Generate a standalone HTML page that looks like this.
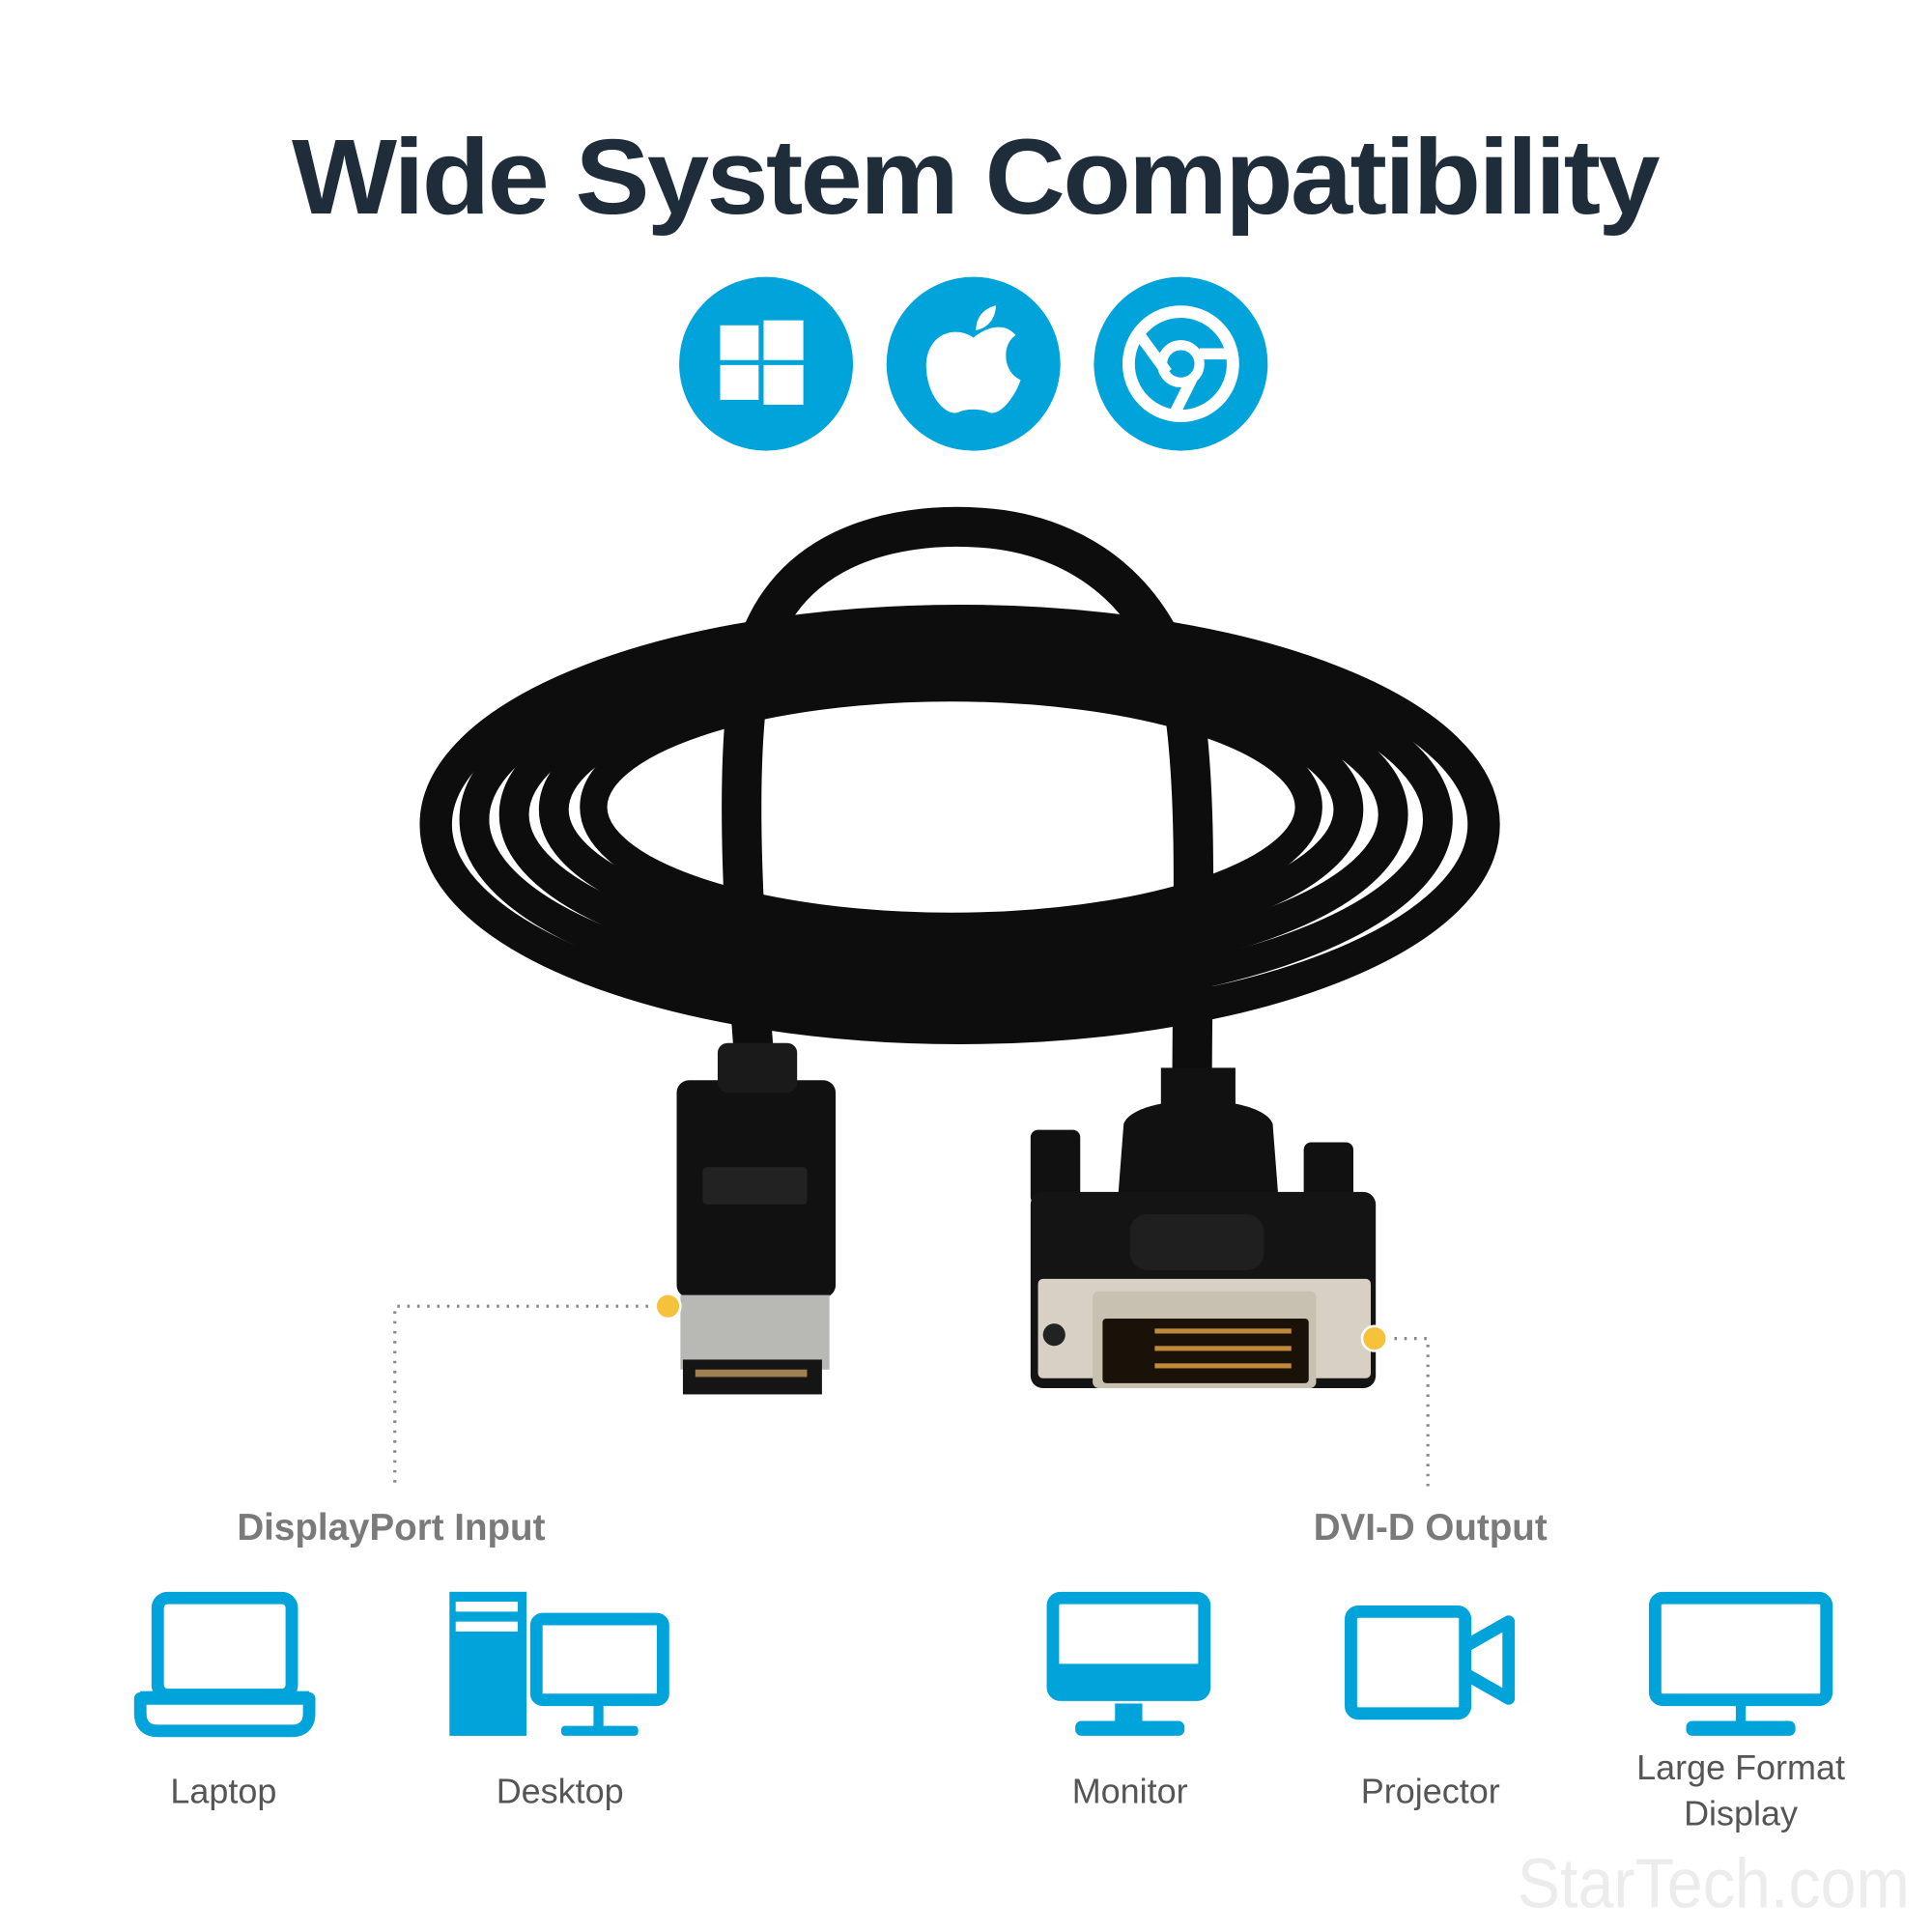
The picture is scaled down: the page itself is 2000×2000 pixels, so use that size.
<!DOCTYPE html>
<html><head><meta charset="utf-8"><style>
html,body{margin:0;padding:0;background:#fff;}
svg{display:block;}
</style></head><body>
<svg width="2000" height="2000" viewBox="0 0 1556 1556" xmlns="http://www.w3.org/2000/svg">
<rect width="1556" height="1556" fill="#fff"/>
<text x="785" y="172" text-anchor="middle" font-family="Liberation Sans, sans-serif" font-weight="bold" font-size="86" fill="#1f2d3b" letter-spacing="-2" textLength="1100" lengthAdjust="spacingAndGlyphs">Wide System Compatibility</text>
<!-- OS circles -->
<circle cx="617" cy="293" r="70" fill="#00a3da"/>
<g fill="#fff"><rect x="580" y="262" width="31" height="28"/><rect x="615" y="258" width="32" height="32"/><rect x="580" y="294" width="31" height="28"/><rect x="615" y="294" width="32" height="32"/></g>
<circle cx="784" cy="293" r="70" fill="#00a3da"/>
<path d="M784 272 C770 262 748 268 746 292 C745 318 762 336 772 332 C778 329 790 329 796 332 C806 336 818 318 822 306 C808 300 806 278 818 270 C810 260 796 262 784 272Z" fill="#fff"/>
<path d="M786 266 C786 254 794 248 802 246 C802 256 796 264 786 266Z" fill="#fff"/>
<circle cx="951" cy="293" r="70" fill="#00a3da"/>
<circle cx="951" cy="293" r="42" fill="none" stroke="#fff" stroke-width="10"/>
<circle cx="951" cy="293" r="15" fill="none" stroke="#fff" stroke-width="8"/>
<path d="M918 270 L940 300 M966 285 L992 285 M960 305 L946 333" stroke="#fff" stroke-width="9"/>
<!-- cable coils -->
<g fill="none" stroke="#0d0d0d">
<ellipse cx="773" cy="664" rx="422" ry="164" stroke-width="26"/>
<ellipse cx="770" cy="660" rx="388" ry="144" stroke-width="24"/>
<ellipse cx="768" cy="656" rx="354" ry="126" stroke-width="24"/>
<ellipse cx="766" cy="652" rx="320" ry="110" stroke-width="24"/>
<ellipse cx="766" cy="650" rx="288" ry="96" stroke-width="22"/>
<path d="M608 860 C600 760 590 620 605 540 C625 440 720 420 790 425 C870 430 940 480 955 580 C965 660 960 760 960 900" stroke-width="32"/>
</g>
<!-- DP connector -->
<rect x="545" y="870" width="128" height="175" rx="10" fill="#111"/>
<rect x="578" y="840" width="64" height="40" rx="8" fill="#1a1a1a"/>
<rect x="566" y="940" width="84" height="30" rx="3" fill="#222"/>
<rect x="548" y="1043" width="120" height="60" fill="#b8b8b4"/>
<rect x="550" y="1095" width="112" height="28" fill="#151515"/>
<rect x="560" y="1103" width="90" height="6" fill="#a08050"/>
<!-- DVI connector -->
<rect x="830" y="910" width="40" height="60" rx="6" fill="#111"/>
<rect x="1050" y="920" width="40" height="60" rx="6" fill="#111"/>
<path d="M900 970 L905 905 C915 880 1015 880 1025 905 L1030 970Z" fill="#111"/>
<rect x="935" y="860" width="60" height="40" fill="#111"/>
<rect x="830" y="960" width="278" height="158" rx="10" fill="#141414"/>
<rect x="910" y="978" width="108" height="45" rx="14" fill="#1f1f1f"/>
<rect x="836" y="1030" width="268" height="80" rx="4" fill="#d8d0c4"/>
<rect x="880" y="1040" width="180" height="78" rx="5" fill="#c8c0b0"/>
<rect x="888" y="1062" width="166" height="52" rx="3" fill="#1a1208"/>
<g fill="#c08a3a">
<rect x="930" y="1070" width="110" height="4"/><rect x="930" y="1084" width="110" height="4"/><rect x="930" y="1098" width="110" height="4"/>
</g>
<circle cx="849" cy="1075" r="9" fill="#222"/>
<!-- dotted connectors -->
<g stroke="#888" stroke-width="2.5" stroke-dasharray="2 6" fill="none">
<path d="M530 1052 L318 1052 L318 1198"/>
<path d="M1115 1078 L1150 1078 L1150 1198"/>
</g>
<circle cx="538" cy="1052" r="10" fill="#f6c23c" stroke="#fff" stroke-width="2"/>
<circle cx="1107" cy="1078" r="10" fill="#f6c23c" stroke="#fff" stroke-width="2"/>
<g font-family="Liberation Sans, sans-serif" font-weight="bold" font-size="30" fill="#7a7a7a" text-anchor="middle">
<text x="315" y="1240">DisplayPort Input</text>
<text x="1152" y="1240">DVI-D Output</text>
</g>
<!-- device icons -->
<g fill="none" stroke="#00a3da" stroke-width="10" stroke-linejoin="round">
<rect x="127" y="1287" width="108" height="78" rx="8"/>
<path d="M113 1368 L249 1368 L249 1380 C249 1390 243 1394 235 1394 L127 1394 C119 1394 113 1390 113 1380Z"/>
<rect x="432" y="1304" width="102" height="65" rx="5"/>
<rect x="848" y="1287" width="122" height="78" rx="6"/>
<rect x="1333" y="1287" width="138" height="82" rx="6"/>
<rect x="1088" y="1298" width="92" height="82" rx="6"/>
<path d="M1180 1326 L1215 1306 L1215 1368 L1180 1348"/>
</g>
<g fill="#00a3da">
<rect x="113" y="1362" width="136" height="8"/>
<rect x="362" y="1282" width="62" height="116"/>
<rect x="452" y="1390" width="62" height="8" rx="3"/>
<rect x="478" y="1372" width="8" height="20"/>
<rect x="848" y="1340" width="122" height="28" rx="4"/>
<rect x="898" y="1372" width="22" height="18"/>
<rect x="866" y="1386" width="88" height="12" rx="5"/>
<rect x="1398" y="1372" width="8" height="16"/>
<rect x="1358" y="1386" width="88" height="12" rx="5"/>
</g>
<g fill="#fff"><rect x="367" y="1290" width="50" height="8"/><rect x="367" y="1306" width="50" height="8"/></g>
<g font-family="Liberation Sans, sans-serif" font-size="28" fill="#555" text-anchor="middle">
<text x="180" y="1452">Laptop</text>
<text x="451" y="1452">Desktop</text>
<text x="910" y="1452">Monitor</text>
<text x="1152" y="1452">Projector</text>
<text x="1402" y="1433">Large Format</text>
<text x="1402" y="1470">Display</text>
</g>
<text x="1538" y="1536" text-anchor="end" font-family="Liberation Sans, sans-serif" font-size="56" fill="#ececec" textLength="316" lengthAdjust="spacingAndGlyphs">StarTech.com</text>
</svg>
</body></html>
